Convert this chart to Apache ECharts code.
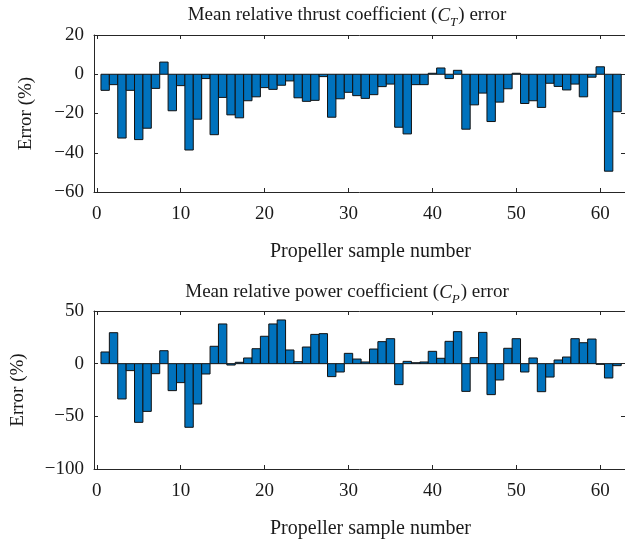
<!DOCTYPE html>
<html>
<head>
<meta charset="utf-8">
<script src="https://cdn.jsdelivr.net/npm/echarts@6/dist/echarts.min.js"></script>
<style>
html,body{margin:0;padding:0;background:#fff;}
#chart{width:625px;height:547px;}
</style>
</head>
<body>
<div id="chart"></div>
<script>
// Propeller sample numbers 1..62
const samples = [1,2,3,4,5,6,7,8,9,10,11,12,13,14,15,16,17,18,19,20,21,22,23,24,25,26,27,28,29,30,31,32,33,34,35,36,37,38,39,40,41,42,43,44,45,46,47,48,49,50,51,52,53,54,55,56,57,58,59,60,61,62];

// Mean relative thrust coefficient (C_T) error, %
const thrustError = [-8.2,-5.3,-32.5,-8.2,-33.3,-27.5,-7.2,6.2,-18.6,-5.8,
  -38.6,-22.9,-2.2,-30.8,-11.8,-20.7,-22.2,-13.5,-11.5,-6.8,
  -7.7,-5.6,-3.4,-12,-13.8,-13.3,-1.2,-21.9,-12.5,-9.2,
  -10.9,-12.3,-10.4,-6.3,-5.0,-27,-30.4,-5.3,-5.3,0.5,
  3.2,-2.2,2.0,-28,-15.6,-9.6,-24.1,-14.2,-7.4,0.5,
  -14.9,-13.5,-16.9,-4.6,-6.2,-8.0,-5.0,-11.5,-1.5,3.8,
  -49.4,-19.1];

// Mean relative power coefficient (C_P) error, %
const powerError = [11.1,29.4,-33.5,-6.6,-55.7,-45.3,-9.5,12.3,-25.6,-18,
  -60.4,-38.3,-9.8,16.5,37.7,-1.3,1.3,5.4,14.2,26,
  37.7,41.5,13,1.9,15.8,27.8,28.5,-12.3,-7.9,9.8,
  4.4,1.6,13.9,20.9,23.7,-19.9,2.2,0.9,1.6,11.7,
  5.1,21.2,30.4,-26.3,5.7,29.7,-29.4,-15.5,14.6,23.7,
  -7.9,5.4,-26.6,-12.7,3.5,6.3,23.7,19.9,23.4,-0.6,
  -13.6,-1.9];

const xTicks = [0,10,20,30,40,50,60];
const titles = [
  ['Mean relative thrust coefficient (', 'C', 'T', ') error'],
  ['Mean relative power coefficient (', 'C', 'P', ') error']
];
const xName = 'Propeller sample number';
const yName = 'Error (%)';

const FONT = 'Liberation Serif';
const FS = 19;
const TXT = '#1a1a1a';
const AX = '#262626';
const BAR = '#0072BD';

const chart = echarts.init(document.getElementById('chart'), null, {renderer: 'canvas'});

const grids = [
  {left: 94, top: 35, width: 531, height: 157, containLabel: false, outerBoundsMode: 'none'},
  {left: 94, top: 311, width: 531, height: 158, containLabel: false, outerBoundsMode: 'none'}
];
const xMin = -0.33, xMax = 62.95;
const yRanges = [
  {min: -60, max: 20, interval: 20, nameGap: 58},
  {min: -100, max: 50, interval: 50, nameGap: 66}
];

function richTitle(parts) {
  return '{a|' + parts[0] + '}{i|' + parts[1] + '}{s|' + parts[2] + '}{a|' + parts[3] + '}';
}

function renderBar(params, api) {
  const x = api.value(0), y = api.value(1);
  const p0 = api.coord([x - 0.5, 0]);
  const p1 = api.coord([x + 0.5, y]);
  return {
    type: 'rect',
    shape: {x: p0[0], y: Math.min(p0[1], p1[1]), width: p1[0] - p0[0], height: Math.abs(p1[1] - p0[1])},
    style: {fill: BAR, stroke: '#111', lineWidth: 1}
  };
}

const xAxes = [], yAxes = [], series = [], titleArr = [];
[0,1].forEach(g => {
  xAxes.push({
    type: 'value', gridIndex: g, min: xMin, max: xMax, position: 'bottom',
    axisLine: {show: true, onZero: false, lineStyle: {color: AX, width: 1}},
    axisTick: {show: true, inside: true, length: 4, customValues: xTicks, lineStyle: {color: AX}},
    axisLabel: {show: true, customValues: xTicks, margin: 13, fontFamily: FONT, fontSize: FS, color: TXT},
    splitLine: {show: false},
    name: xName, nameLocation: 'middle', nameGap: 50,
    nameTextStyle: {fontFamily: FONT, fontSize: 20, color: TXT, padding: [0, 0, 0, 22]}
  });
  xAxes.push({
    type: 'value', gridIndex: g, min: xMin, max: xMax, position: 'top',
    axisLine: {show: true, onZero: false, lineStyle: {color: AX, width: 1}},
    axisTick: {show: true, inside: true, length: 4, customValues: xTicks, lineStyle: {color: AX}},
    axisLabel: {show: false},
    splitLine: {show: false}
  });
  const yr = yRanges[g];
  yAxes.push({
    type: 'value', gridIndex: g, min: yr.min, max: yr.max, interval: yr.interval, position: 'left',
    axisLine: {show: true, onZero: false, lineStyle: {color: AX, width: 1}},
    axisTick: {show: true, inside: true, length: 4, lineStyle: {color: AX}},
    axisLabel: {show: true, margin: 10, fontFamily: FONT, fontSize: FS, color: TXT,
      formatter: v => (v < 0 ? '\u2212' + Math.abs(v) : String(v))},
    splitLine: {show: false},
    name: yName, nameLocation: 'middle', nameGap: yr.nameGap, nameRotate: 90,
    nameTextStyle: {fontFamily: FONT, fontSize: FS, color: TXT}
  });
  yAxes.push({
    type: 'value', gridIndex: g, min: yr.min, max: yr.max, interval: yr.interval, position: 'right',
    axisLine: {show: true, onZero: false, lineStyle: {color: AX, width: 1}},
    axisTick: {show: true, inside: true, length: 4, lineStyle: {color: AX}},
    axisLabel: {show: false},
    splitLine: {show: false}
  });
  const vals = g === 0 ? thrustError : powerError;
  series.push({
    type: 'custom',
    xAxisIndex: g * 2, yAxisIndex: g * 2,
    data: samples.map((s, i) => [s, vals[i]]),
    renderItem: renderBar,
    clip: true,
    silent: true,
    animation: false
  });
  titleArr.push({
    text: richTitle(titles[g]),
    left: 342, textAlign: 'center',
    top: g === 0 ? -4 : 273,
    textStyle: {
      fontWeight: 'normal',
      rich: {
        a: {fontFamily: FONT, fontSize: FS, fontWeight: 'normal', color: TXT, lineHeight: 24, verticalAlign: 'bottom'},
        i: {fontFamily: FONT, fontSize: FS, fontWeight: 'normal', fontStyle: 'italic', color: TXT, lineHeight: 24, verticalAlign: 'bottom'},
        s: {fontFamily: FONT, fontSize: 13, fontWeight: 'normal', fontStyle: 'italic', color: TXT, lineHeight: 13, verticalAlign: 'bottom', padding: [0,1,-4,0]}
      }
    }
  });
});

chart.setOption({
  animation: false,
  backgroundColor: '#fff',
  title: titleArr,
  grid: grids,
  xAxis: xAxes,
  yAxis: yAxes,
  series: series
});
</script>
</body>
</html>
